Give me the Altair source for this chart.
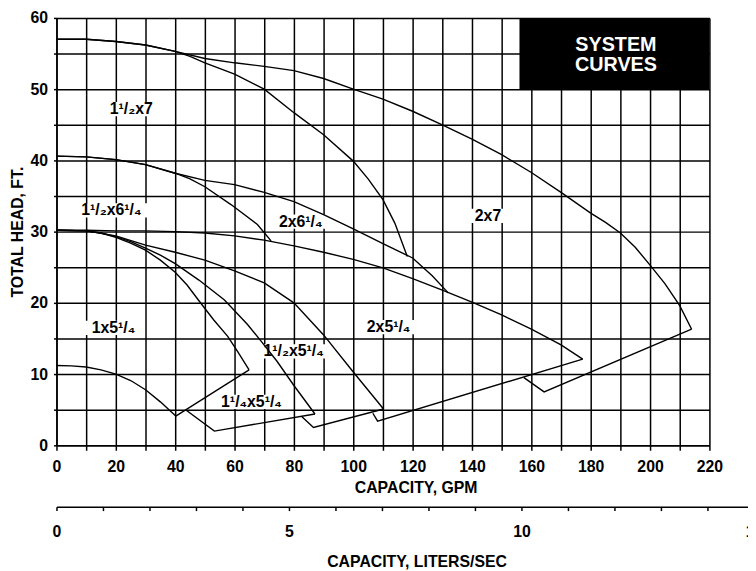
import altair as alt
import pandas as pd

FONT = "Liberation Sans"

# ---------------- pump curves: capacity (GPM) and total head (ft) ----------------
c_2x7_gpm = [0, 10, 20, 30, 40, 50, 60, 70, 80, 90, 100, 110, 120, 130, 140, 150, 160, 170, 180, 185, 190, 195, 200, 205, 210, 214]
c_2x7_ft = [57.0, 57.0, 56.7, 56.2, 55.3, 54.3, 53.7, 53.2, 52.6, 51.5, 50.0, 48.6, 46.9, 45.0, 43.0, 40.8, 38.3, 35.5, 32.6, 31.3, 29.8, 27.8, 25.3, 22.7, 19.6, 16.3]

c_15x7_gpm = [0, 10, 20, 30, 40, 45, 50, 60, 70, 80, 90, 100, 105, 110, 114, 118.2]
c_15x7_ft = [57.0, 57.0, 56.7, 56.2, 55.3, 54.6, 53.7, 52.1, 50.0, 46.7, 43.6, 39.9, 37.4, 34.5, 31.2, 26.5]

c_2x625_gpm = [0, 10, 20, 30, 40, 50, 60, 70, 80, 90, 100, 110, 120, 126.6, 132]
c_2x625_ft = [40.6, 40.5, 40.1, 39.4, 38.2, 37.2, 36.6, 35.5, 34.2, 32.4, 30.4, 28.3, 26.3, 23.8, 21.4]

c_15x625_gpm = [0, 10, 20, 30, 40, 45, 50, 58.8, 67.7, 72.3]
c_15x625_ft = [40.6, 40.5, 40.1, 39.4, 38.2, 37.4, 36.3, 33.8, 31.0, 28.7]

c_2x525_gpm = [0, 10, 20, 30, 40, 50, 60, 70, 80, 90, 100, 110, 120, 130, 140, 150, 160, 170, 177.3]
c_2x525_ft = [30.2, 30.2, 30.1, 30.1, 30.0, 29.8, 29.4, 28.8, 28.0, 27.1, 26.1, 24.9, 23.4, 21.8, 20.1, 18.3, 16.3, 14.1, 12.1]

c_525c_gpm = [0, 10, 20, 30, 40, 50, 60, 70, 80, 90, 100, 110.2]
c_525c_ft = [30.2, 30.1, 29.4, 28.1, 27.1, 26.0, 24.5, 22.8, 20.0, 15.5, 10.3, 5.1]

c_15x525_gpm = [0, 10, 15, 20, 25, 30, 35, 40, 48, 56.6, 64.3, 68.8, 74.3, 80, 87.1]
c_15x525_ft = [30.2, 30.1, 29.8, 29.3, 28.6, 27.7, 26.7, 25.5, 23.2, 20.4, 17.0, 14.7, 11.8, 8.4, 4.4]

c_125x525_gpm = [0, 10, 15, 20, 25, 30, 35, 40, 44, 48, 53, 57.7, 61, 64.9]
c_125x525_ft = [30.2, 30.1, 29.8, 29.2, 28.4, 27.4, 26.0, 24.3, 22.5, 20.3, 17.6, 15.3, 13.2, 10.6]

c_1x525_gpm = [0, 5, 10, 15, 20, 25, 30, 35, 40.2]
c_1x525_ft = [11.2, 11.15, 11.0, 10.6, 10.0, 9.1, 7.8, 6.1, 4.1]

# ---------------- system curve segments along the bottom ----------------
s1_gpm = [40.2, 64.9]
s1_ft = [4.1, 10.6]
s2_gpm = [43.5, 53.2, 87.1]
s2_ft = [5.0, 2.0, 4.4]
s3_gpm = [82.7, 86.6, 110.2]
s3_ft = [4.0, 2.5, 5.1]
s4_gpm = [106.6, 108.2, 177.3]
s4_ft = [4.5, 3.4, 12.1]
s5_gpm = [157.5, 164.3, 214.0]
s5_ft = [9.5, 7.5, 16.3]

curves = {
    "2x7": (c_2x7_gpm, c_2x7_ft),
    "1.5x7": (c_15x7_gpm, c_15x7_ft),
    "2x6.25": (c_2x625_gpm, c_2x625_ft),
    "1.5x6.25": (c_15x625_gpm, c_15x625_ft),
    "2x5.25": (c_2x525_gpm, c_2x525_ft),
    "5.25c": (c_525c_gpm, c_525c_ft),
    "1.5x5.25": (c_15x525_gpm, c_15x525_ft),
    "1.25x5.25": (c_125x525_gpm, c_125x525_ft),
    "1x5.25": (c_1x525_gpm, c_1x525_ft),
    "s1": (s1_gpm, s1_ft),
    "s2": (s2_gpm, s2_ft),
    "s3": (s3_gpm, s3_ft),
    "s4": (s4_gpm, s4_ft),
    "s5": (s5_gpm, s5_ft),
}

# ---------------- curve labels ----------------
label_text = ["1¹/₂x7", "1¹/₂x6¹/₄", "2x6¹/₄", "2x7", "1x5¹/₄", "1¹/₂x5¹/₄", "2x5¹/₄", "1¹/₄x5¹/₄"]
label_gpm = [25.2, 18.5, 82.3, 145.4, 19.2, 79.9, 111.9, 65.7]
label_ft = [47.2, 33.0, 31.4, 32.2, 16.5, 13.2, 16.6, 6.1]

# ---------------- title box ----------------
box_text = ["SYSTEM", "CURVES"]
box_gpm = [156, 220]
box_ft = [50, 60]

# ---------------- axes ----------------
gpm_ticks = list(range(0, 221, 10))
ft_ticks = list(range(0, 61, 5))
lps_ticks = list(range(0, 16))

rows = []
for name, (g, f) in curves.items():
    for i, (x, y) in enumerate(zip(g, f)):
        rows.append({"series": name, "gpm": x, "ft": y, "order": i})
df = pd.DataFrame(rows)

labels_df = pd.DataFrame({"text": label_text, "gpm": label_gpm, "ft": label_ft})
box_df = pd.DataFrame({"x1": [box_gpm[0]], "x2": [box_gpm[1]], "y1": [box_ft[0]], "y2": [box_ft[1]]})
box_text_df = pd.DataFrame({"text": box_text, "line": [0, 1],
                            "gpm": [(box_gpm[0] + box_gpm[1]) / 2 + 0.5] * 2})
lps_df = pd.DataFrame({"lps": lps_ticks})

axis_common = dict(
    labelFont=FONT, labelFontSize=16, labelFontWeight="bold", labelColor="black",
    titleFont=FONT, titleFontSize=16, titleFontWeight="bold", titleColor="black",
    domainColor="black", domainWidth=1.5, tickColor="black", tickWidth=1.5,
    labelOverlap=False, labelFlush=False,
)

x_scale = alt.Scale(domain=[0, 220], nice=False, zero=False)
y_scale = alt.Scale(domain=[0, 60], nice=False, zero=False)
x_axis = alt.Axis(values=gpm_ticks,
                  labelExpr="datum.value % 20 == 0 ? datum.label : ''",
                  title="CAPACITY, GPM", grid=True, gridColor="black",
                  gridWidth=1.5, gridOpacity=1, tickSize=5, labelPadding=8,
                  titlePadding=6, titleX=363, **axis_common)
y_axis = alt.Axis(values=ft_ticks,
                  labelExpr="datum.value % 10 == 0 ? datum.label : ''",
                  title="TOTAL HEAD, FT.", grid=True, gridColor="black",
                  gridWidth=1.5, gridOpacity=1, tickSize=3, labelPadding=6,
                  titlePadding=5, **axis_common)


def X(field):
    return alt.X(field, type="quantitative", scale=x_scale, axis=x_axis)


def Y(field):
    return alt.Y(field, type="quantitative", scale=y_scale, axis=y_axis)


lines = alt.Chart(df).mark_line(color="black", strokeWidth=1.4, clip=True).encode(
    x=X("gpm"), y=Y("ft"), detail="series:N", order="order:Q")

label_boxes = alt.Chart(labels_df).transform_calculate(
    x1="datum.gpm - (length(datum.text) * 7.4 + 16) / 6",
    x2="datum.gpm + (length(datum.text) * 7.4 + 16) / 6",
    y1="datum.ft - 1.0",
    y2="datum.ft + 1.0",
).mark_rect(color="white").encode(
    x=X("x1"), x2="x2:Q", y=Y("y1"), y2="y2:Q")

label_texts = alt.Chart(labels_df).mark_text(
    font=FONT, fontSize=16, fontWeight="bold", color="black",
    align="center", baseline="middle").encode(
    x=X("gpm"), y=Y("ft"), text="text:N")

black_box = alt.Chart(box_df).mark_rect(color="black").encode(
    x=X("x1"), x2="x2:Q", y=Y("y1"), y2="y2:Q")

box_texts = alt.Chart(box_text_df).transform_calculate(
    ft="datum.line == 0 ? 56.15 : 53.35"
).mark_text(font=FONT, fontSize=20, fontWeight="bold", color="white",
            align="center", baseline="middle").encode(
    x=X("gpm"), y=Y("ft"), text="text:N")

main = alt.layer(label_boxes, lines, label_texts, black_box, box_texts)

lps_layer = alt.Chart(lps_df).mark_point(opacity=0).encode(
    x=alt.X("lps:Q", scale=alt.Scale(domain=[0, 15], range=[0, 705], nice=False, zero=False),
            axis=alt.Axis(orient="bottom", offset=62, values=lps_ticks,
                          labelExpr="datum.value % 5 == 0 ? datum.label : ''",
                          title="CAPACITY, LITERS/SEC", grid=False, tickSize=4,
                          labelPadding=13, titlePadding=15, titleX=364, **axis_common)),
    y=alt.value(0))

chart = alt.layer(main, lps_layer).resolve_scale(x="independent").properties(
    width=660, height=432,
    padding={"left": 49, "top": 7, "right": 39, "bottom": 124},
    autosize=alt.AutoSizeParams(type="none"),
).configure_view(stroke=None).configure(background="white")

chart.save("out.html", embed_options={"renderer": "svg", "actions": False})
